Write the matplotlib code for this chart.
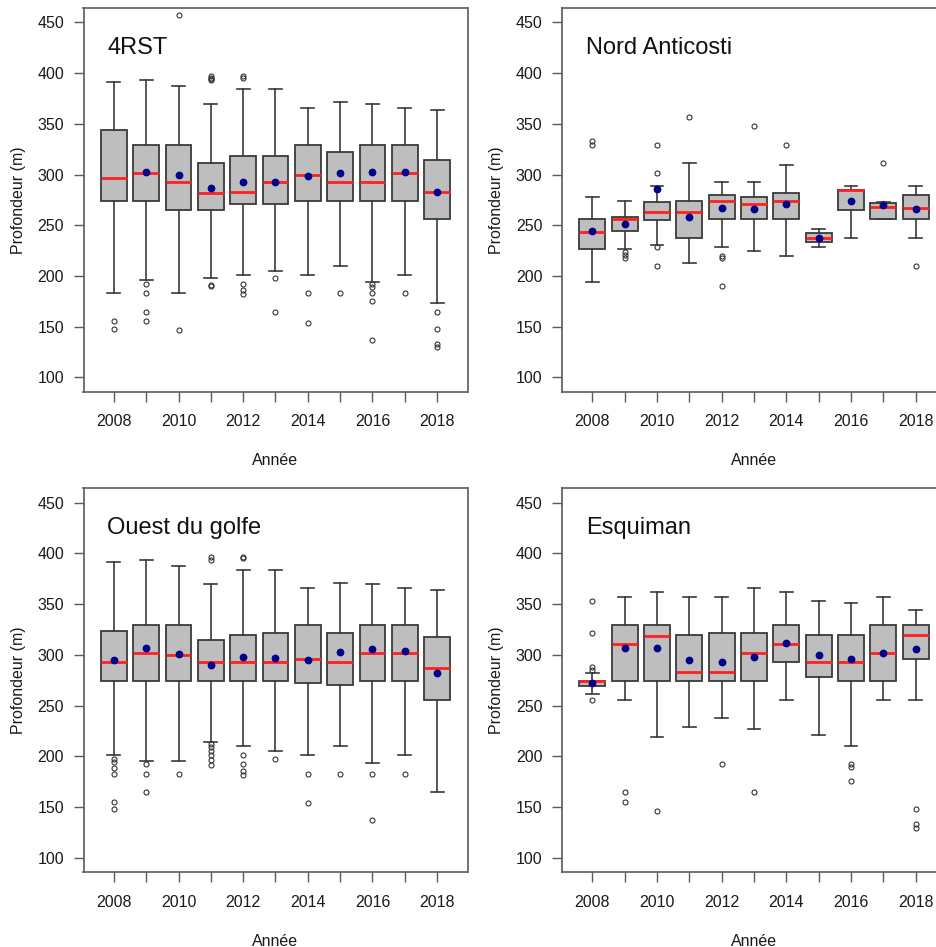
import matplotlib
matplotlib.use("Agg")
import matplotlib.pyplot as plt
import numpy as np

plt.rcParams["font.family"] = ["Liberation Sans", "DejaVu Sans"]

years = list(range(2008, 2019))
year_labels = [str(y) if y % 2 == 0 else "" for y in years]

# ---- 4RST ----
rst_med = [296.4, 302.0, 292.8, 281.6, 283.3, 292.5, 300.0, 292.5, 292.5, 301.6, 283.3]
rst_q1 = [274.4, 274.4, 265.2, 265.2, 270.8, 270.8, 274.4, 274.4, 274.4, 274.4, 256.0]
rst_q3 = [344.0, 329.2, 329.2, 311.1, 318.4, 318.4, 329.2, 322.0, 329.2, 329.2, 314.4]
rst_lo = [183.2, 196.0, 183.2, 198.0, 201.3, 205.2, 201.3, 210.4, 194.0, 201.3, 173.7]
rst_hi = [391.8, 393.2, 387.6, 369.5, 384.0, 384.0, 365.6, 371.2, 369.5, 365.6, 364.0]
rst_mean = [None, 302.3, 300.0, 286.5, 293.1, 292.5, 298.4, 301.6, 302.6, 303.0, 282.6]
rst_out = [
    [155.3, 148.1],
    [192.4, 183.2, 164.9, 155.3],
    [457.4, 146.5],
    [396.8, 395.6, 394.0, 393.8, 191.4, 190.4],
    [396.8, 395.1, 192.4, 186.0, 182.0],
    [198.0, 164.9],
    [183.2, 154.0],
    [183.2],
    [192.4, 189.1, 183.2, 175.7, 137.3],
    [183.2],
    [164.9, 148.1, 133.4, 129.8],
]

# ---- Nord Anticosti ----
na_med = [243.3, 256.0, 263.6, 263.6, 274.4, 270.8, 274.4, 238.0, 285.2, 268.2, 267.2]
na_q1 = [226.9, 244.2, 255.4, 238.0, 256.0, 256.0, 256.0, 233.4, 265.2, 256.0, 256.0]
na_q3 = [256.0, 258.0, 272.8, 274.4, 280.0, 278.0, 281.6, 242.6, 285.2, 271.8, 280.0]
na_lo = [194.0, 226.9, 230.5, 212.4, 228.8, 225.2, 219.6, 228.8, 238.0, 256.0, 238.0]
na_hi = [278.0, 274.4, 289.2, 311.1, 292.8, 292.8, 309.2, 246.9, 289.2, 272.8, 289.2]
na_mean = [244.6, 251.8, 286.2, 258.0, 267.2, 266.5, 270.8, 238.0, 274.1, 269.8, 266.5]
na_out = [
    [333.1, 329.5],
    [223.6, 220.6, 218.0],
    [329.5, 302.0, 228.8, 210.4],
    [356.7],
    [220.0, 218.0, 190.4],
    [347.6],
    [329.5],
    [],
    [],
    [311.1],
    [210.4],
]

# ---- Ouest du golfe ----
og_med = [292.8, 302.0, 300.0, 292.8, 292.8, 292.8, 296.4, 292.8, 302.0, 302.0, 286.9]
og_q1 = [274.4, 274.4, 274.4, 274.4, 274.4, 274.4, 272.8, 270.8, 274.4, 274.4, 256.0]
og_q3 = [323.6, 329.2, 329.2, 314.4, 320.0, 322.0, 329.2, 322.0, 329.2, 329.2, 317.7]
og_lo = [201.3, 196.0, 196.0, 214.4, 210.4, 205.2, 201.3, 210.4, 194.0, 201.3, 164.6]
og_hi = [391.8, 393.2, 387.6, 369.5, 384.0, 384.0, 365.6, 371.2, 369.5, 365.6, 364.0]
og_mean = [294.8, 306.9, 301.0, 290.2, 298.4, 296.7, 295.1, 302.6, 305.9, 303.6, 282.6]
og_out = [
    [198.0, 194.7, 188.8, 183.2, 155.3, 148.1],
    [192.4, 183.2, 164.9],
    [183.2],
    [396.5, 393.8, 212.7, 209.5, 205.5, 201.3, 197.0, 191.4],
    [396.8, 395.1, 201.3, 192.4, 185.5, 181.6],
    [198.0],
    [183.2, 154.0],
    [183.2],
    [183.2, 137.3],
    [183.2],
    [],
]

# ---- Esquiman ----
es_med = [274.4, 310.9, 318.4, 283.3, 283.3, 302.0, 310.9, 292.8, 292.8, 302.0, 320.0]
es_q1 = [268.9, 274.4, 274.4, 274.4, 274.4, 274.4, 292.8, 278.0, 274.4, 274.4, 296.4]
es_q3 = [274.8, 329.2, 329.2, 320.0, 322.0, 322.0, 329.2, 320.0, 320.0, 329.2, 329.2]
es_lo = [262.0, 256.0, 219.6, 228.8, 238.0, 226.9, 256.0, 221.3, 210.4, 256.0, 256.0]
es_hi = [281.7, 356.8, 362.0, 356.8, 356.8, 365.9, 362.0, 352.8, 351.2, 356.8, 344.0]
es_mean = [272.5, 306.6, 307.2, 294.8, 293.5, 298.0, 311.8, 299.7, 295.8, 302.3, 306.3]
es_out = [
    [352.8, 322.0, 287.9, 285.3, 256.1],
    [164.9, 155.4],
    [146.5],
    [],
    [192.4],
    [164.9],
    [],
    [],
    [192.4, 189.2, 175.7],
    [],
    [148.1, 133.4, 129.8],
]

panels = [
    ("4RST", rst_med, rst_q1, rst_q3, rst_lo, rst_hi, rst_mean, rst_out),
    ("Nord Anticosti", na_med, na_q1, na_q3, na_lo, na_hi, na_mean, na_out),
    ("Ouest du golfe", og_med, og_q1, og_q3, og_lo, og_hi, og_mean, og_out),
    ("Esquiman", es_med, es_q1, es_q3, es_lo, es_hi, es_mean, es_out),
]

W, H = 936, 947
fig = plt.figure(figsize=(W / 100, H / 100), dpi=100)

# axes frames in pixels: (left, top, width, height)
frames = [
    (83.5, 8.3, 384, 383.4),
    (562.0, 8.3, 384, 383.4),
    (83.5, 488.3, 384, 384),
    (562.0, 488.3, 384, 384),
]

edge = "#3a3a3a"
frame_col = "#5a5a5a"

for (title, med, q1, q3, lo, hi, mean, out), (l, t, w, h) in zip(panels, frames):
    ax = fig.add_axes([l / W, 1 - (t + h) / H, w / W, h / H])
    stats = []
    for i in range(len(years)):
        stats.append(dict(med=med[i], q1=q1[i], q3=q3[i],
                          whislo=lo[i], whishi=hi[i], fliers=out[i]))
    ax.bxp(stats, positions=years, widths=0.8, capwidths=0.4,
           patch_artist=True, showfliers=True,
           boxprops=dict(facecolor="#bebebe", edgecolor=edge, linewidth=1.3),
           whiskerprops=dict(color=edge, linewidth=1.2),
           capprops=dict(color=edge, linewidth=1.2),
           medianprops=dict(color="#ff2020", linewidth=2.0),
           flierprops=dict(marker="o", markersize=3.6, markerfacecolor="none",
                           markeredgecolor="#333333", markeredgewidth=0.8))
    mx = [y for y, m in zip(years, mean) if m is not None]
    my = [m for m in mean if m is not None]
    ax.plot(mx, my, "o", color="#00008b", markersize=4.6, zorder=5)

    ax.set_xlim(2007.06, 2018.94)
    ax.set_ylim(86, 464)
    ax.set_yticks([100, 150, 200, 250, 300, 350, 400, 450])
    ax.set_xticks(years)
    ax.set_xticklabels(year_labels)
    ax.tick_params(axis="both", direction="out", length=7, width=1.0,
                   color=frame_col, labelsize=11.5, labelcolor="#1a1a1a")
    ax.tick_params(axis="y", pad=7)
    ax.tick_params(axis="x", pad=9)
    for s in ax.spines.values():
        s.set_color(frame_col)
        s.set_linewidth(1.2)

    ax.set_xlabel("Année", fontsize=11.5, color="#1a1a1a")
    ax.xaxis.set_label_coords(0.5, -69 / h)
    ax.xaxis.label.set_va("center")
    ax.set_ylabel("Profondeur (m)", fontsize=11.5, color="#1a1a1a")
    ax.yaxis.set_label_coords(-65 / w, 0.5)
    ax.yaxis.label.set_va("center")

    ax.text(0.062, 1 - 40 / h, title, transform=ax.transAxes,
            fontsize=17, ha="left", va="center", color="#111111")

fig.savefig("out.png", dpi=100)
